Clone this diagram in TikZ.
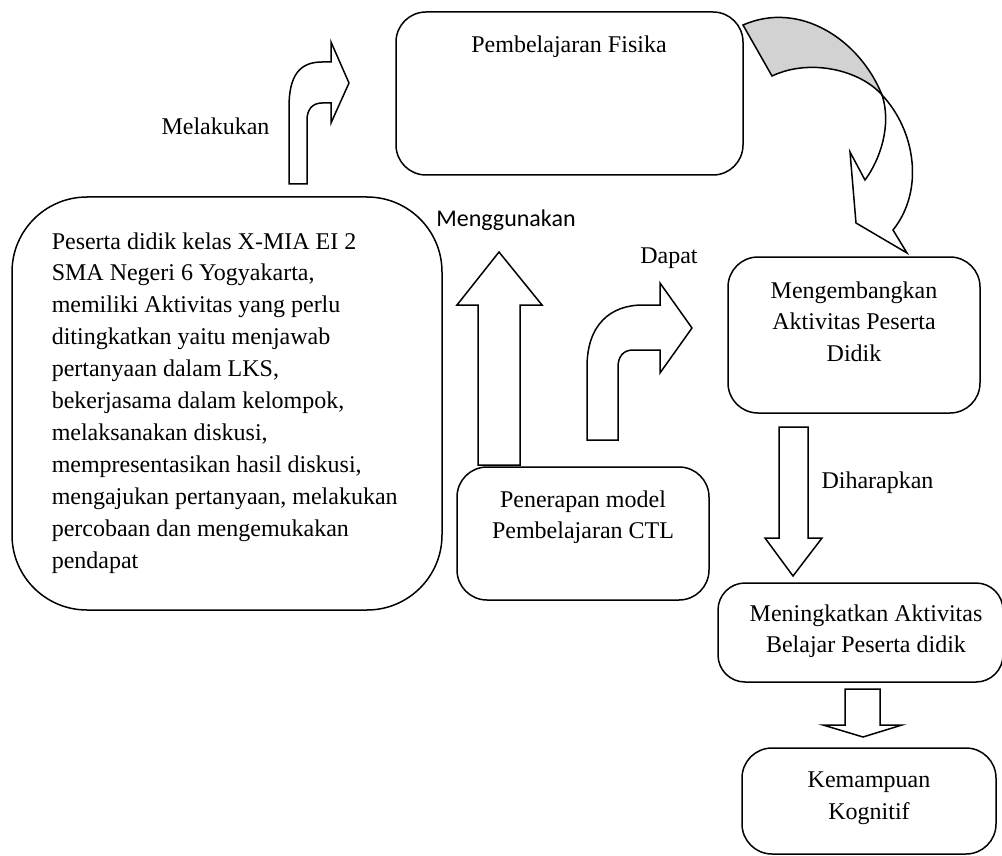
\documentclass[tikz,border=0pt]{standalone}
\usepackage{fontspec}
\setmainfont{Liberation Serif}
\newfontfamily\calibrifont{Carlito}
\usepackage{tikz}
\usetikzlibrary{positioning}

\begin{document}
\begin{tikzpicture}[x=1pt,y=-1pt,line width=1.5pt,line join=miter,
    font=\fontsize{24}{31.5}\selectfont]
        \tikzstyle{box}=[draw,rounded corners=30pt,inner sep=0pt]
        \tikzstyle{txt}=[inner sep=0pt,align=center]
        \tikzstyle{blockarrow}=[draw,fill=white]
        \useasboundingbox (0,0) rectangle (1002,856);

        % kotak-kotak
        \node[box,minimum width=347,minimum height=163] (fisika) at (569.5,93.5) {};
        \node[box,rounded corners=75pt,minimum width=430,minimum height=413] (peserta) at (227,403.5) {};
        \node[box,minimum width=252,minimum height=133] (penerapan) at (583,533.5) {};
        \node[box,minimum width=252,minimum height=156] (mengembangkan) at (854,335) {};
        \node[box,rounded corners=27pt,minimum width=285,minimum height=99] (meningkatkan) at (860.5,632.5) {};
        \node[box,minimum width=254,minimum height=106] (kemampuan) at (869,801) {};

        % teks di dalam kotak
        \node[txt,anchor=base] (fisikatxt) at (569,53) {Pembelajaran Fisika};
        \node[txt,anchor=north west,align=left,font=\fontsize{24}{31.9}\selectfont] (pesertatxt) at (51,231.6)
            {Peserta didik kelas X-MIA EI 2\\
             SMA Negeri 6 Yogyakarta,\\
             memiliki Aktivitas yang perlu\\
             ditingkatkan yaitu menjawab\\
             pertanyaan dalam LKS,\\
             bekerjasama dalam kelompok,\\
             melaksanakan diskusi,\\
             mempresentasikan hasil diskusi,\\
             mengajukan pertanyaan, melakukan\\
             percobaan dan mengemukakan\\
             pendapat};
        \node[txt,anchor=north] (penerapantxt) at (583,489.6) {Penerapan model\\Pembelajaran CTL};
        \node[txt,anchor=north] (mengembangkantxt) at (854,280.6) {Mengembangkan\\Aktivitas Peserta\\Didik};
        \node[txt,anchor=north] (meningkatkantxt) at (866,603.6) {Meningkatkan Aktivitas\\Belajar Peserta didik};
        \node[txt,anchor=north] (kemampuantxt) at (869,771.1) {Kemampuan\\Kognitif};

        % panah belok (Melakukan)
        \draw[blockarrow] (289,184) -- (289,107) .. controls (289,75) and (300,62) .. (322,62)
            -- (331,62) -- (331,42) -- (349,83) -- (331,123) -- (331,103) -- (322,103)
            .. controls (312,103) and (307,110) .. (307,120) -- (307,184) -- cycle;
        % panah lurus ke atas (Menggunakan)
        \draw[blockarrow] (478,465) -- (478,305) -- (457,305) -- (499,252) -- (542,305)
            -- (520,305) -- (520,465) -- cycle;
        % panah belok (Dapat)
        \draw[blockarrow] (587,440) -- (587,367) .. controls (587,325) and (610,305) .. (643,305)
            -- (660,305) -- (660,283) -- (692,328) -- (660,373) -- (660,350) -- (633,350)
            .. controls (623,350) and (618,357) .. (618,367) -- (618,440) -- cycle;
        % panah lengkung
        \filldraw[fill=gray!35] (743,25) .. controls (800,0) and (860,40) .. (882,95)
            .. controls (860,70) and (810,58) .. (772,76) -- cycle;
        \draw[blockarrow] (882,95) .. controls (892,125) and (880,160) .. (865,180)
            -- (850,152) -- (856,223) -- (907,253) -- (893,230)
            .. controls (925,190) and (915,130) .. (882,95) -- cycle;
        % panah ke bawah
        \draw[blockarrow] (779,427) -- (779,538) -- (765,538) -- (793,576) -- (822,538)
            -- (808,538) -- (808,427) -- cycle;
        \draw[blockarrow] (845,689) -- (845,725) -- (823,725) -- (863,737) -- (902,725)
            -- (880,725) -- (880,689) -- cycle;

        % label
        \node[txt,anchor=base] (melakukan) at (215.5,135) {Melakukan};
        \node[txt,anchor=base,font=\calibrifont\fontsize{24}{28}\selectfont] (menggunakan) at (506,226) {Menggunakan};
        \node[txt,anchor=base] (dapat) at (669,263) {Dapat};
        \node[txt,anchor=base] (diharapkan) at (877.5,488) {Diharapkan};
\end{tikzpicture}
\end{document}
